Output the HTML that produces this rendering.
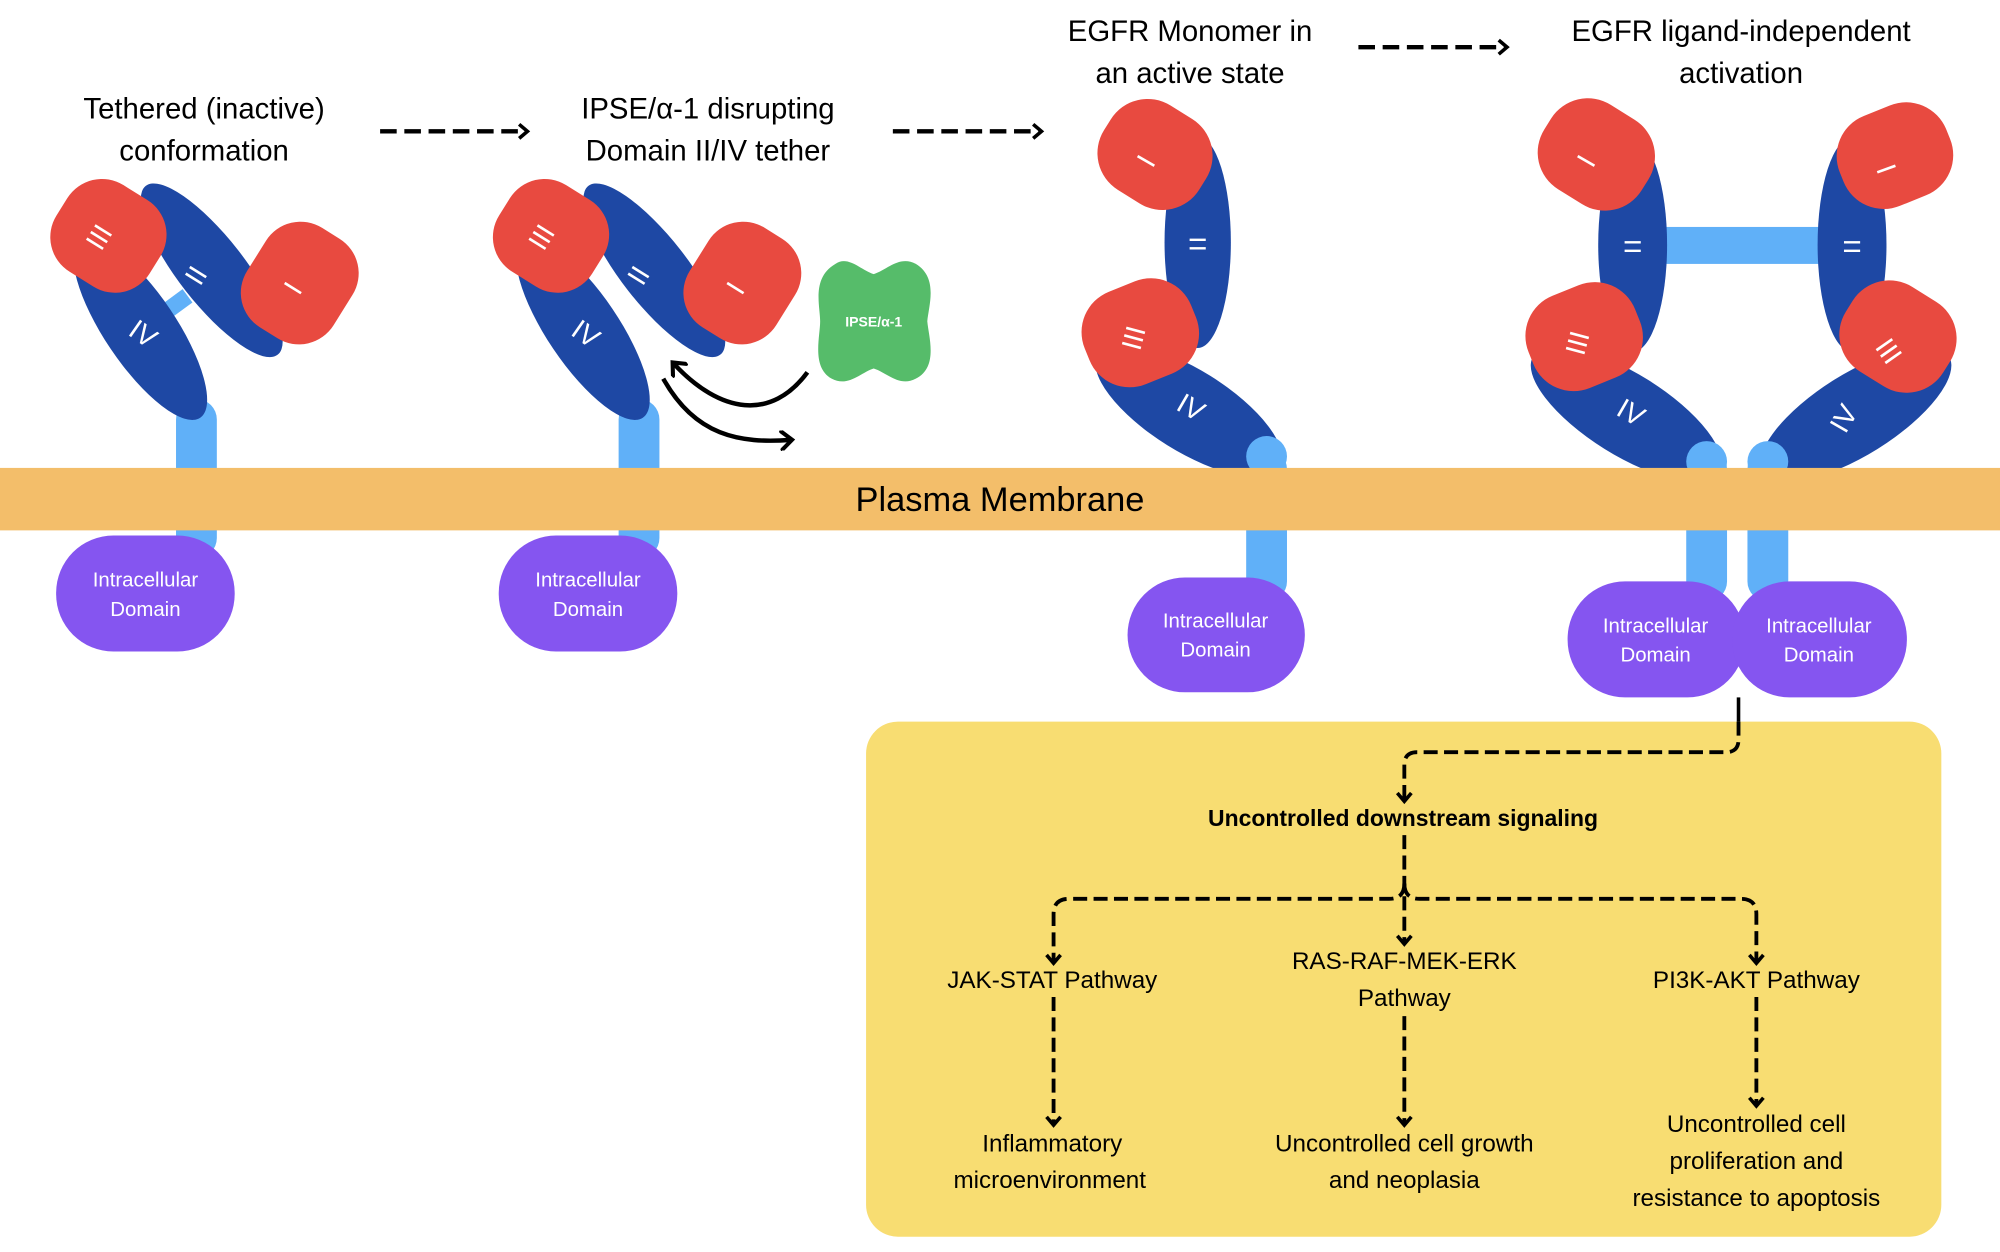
<!DOCTYPE html>
<html><head><meta charset="utf-8"><style>
html,body{margin:0;padding:0;background:#fff;}
svg{display:block;}
text{font-family:"Liberation Sans",sans-serif;}
</style></head><body>
<svg width="2000" height="1252" viewBox="0 0 1568 982" preserveAspectRatio="none" xmlns="http://www.w3.org/2000/svg">
<defs>
<marker id="ah" markerWidth="14" markerHeight="14" refX="9" refY="7" orient="auto" markerUnits="userSpaceOnUse">
<path d="M3,1.5 L9.5,7 L3,12.5" fill="none" stroke="#000" stroke-width="2.8"/>
</marker>
<marker id="ah2" markerWidth="16" markerHeight="16" refX="10" refY="8" orient="auto" markerUnits="userSpaceOnUse">
<path d="M3,1 L11,8 L3,15" fill="none" stroke="#000" stroke-width="3.2" stroke-linecap="round"/>
</marker>
<g id="tether">
<rect x="138" y="313" width="32" height="125" rx="16" fill="#60b0f8"/>
<ellipse cx="110" cy="258" rx="84" ry="28" transform="rotate(56 110 258)" fill="#1e48a4"/>
<ellipse cx="166" cy="212" rx="84" ry="26" transform="rotate(52 166 212)" fill="#1e48a4"/>
<rect x="42" y="145" width="86" height="80" rx="32" transform="rotate(32 85 185)" fill="#e84a40"/>
<rect x="195" y="176" width="80" height="92" rx="32" transform="rotate(32 235 222)" fill="#e84a40"/>
<text transform="translate(84,190) rotate(-58)" font-size="22" fill="#fff" text-anchor="middle">III</text>
<text transform="translate(160,220) rotate(-58)" font-size="22" fill="#fff" text-anchor="middle">II</text>
<text transform="translate(236,230) rotate(-58)" font-size="22" fill="#fff" text-anchor="middle">I</text>
<text transform="translate(108,268) rotate(35)" font-size="22" fill="#fff" text-anchor="middle">IV</text>
</g>
</defs>

<!-- Receptor 1 -->
<line x1="128" y1="246" x2="147" y2="232" stroke="#60b0f8" stroke-width="13"/>
<use href="#tether"/>
<!-- Receptor 2 -->
<use href="#tether" transform="translate(347,0)"/>

<!-- IPSE -->
<path d="M655,207 C665,200 675,212 685,215 C695,212 705,200 718,207 C736,218 728,240 727,252 C728,264 736,288 718,297 C705,304 695,292 685,289 C675,292 665,304 652,297 C636,288 643,264 643,252 C643,240 636,218 655,207 Z" fill="#56bc6a"/>
<text x="685" y="256" font-size="11" font-weight="bold" fill="#fff" text-anchor="middle">IPSE/α-1</text>
<path d="M633,292 C605,330 565,325 528,285" fill="none" stroke="#000" stroke-width="3.5" marker-end="url(#ah2)"/>
<path d="M520,297 C545,342 580,348 620,345" fill="none" stroke="#000" stroke-width="3.5" marker-end="url(#ah2)"/>

<!-- Receptor 3 monomer -->
<rect x="977" y="352" width="32" height="120" rx="16" fill="#60b0f8"/>
<ellipse cx="932" cy="322" rx="84" ry="32" transform="rotate(32 932 322)" fill="#1e48a4"/>
<ellipse cx="939" cy="190" rx="26" ry="83" fill="#1e48a4"/>
<rect x="861" y="82" width="88" height="78" rx="34" transform="rotate(32 905 122)" fill="#e84a40"/>
<rect x="849" y="222" width="90" height="78" rx="34" transform="rotate(-22 894 261)" fill="#e84a40"/>
<text transform="translate(905,130) rotate(-60)" font-size="22" fill="#fff" text-anchor="middle">I</text>
<text x="939" y="200" font-size="26" fill="#fff" text-anchor="middle">=</text>
<text transform="translate(896,267) rotate(-75)" font-size="22" fill="#fff" text-anchor="middle">III</text>
<text transform="translate(930,326) rotate(30)" font-size="22" fill="#fff" text-anchor="middle">IV</text>
<circle cx="993" cy="358" r="16" fill="#60b0f8"/>

<!-- Receptor 4 dimer -->
<rect x="1322" y="352" width="32" height="120" rx="16" fill="#60b0f8"/>
<rect x="1370" y="352" width="32" height="120" rx="16" fill="#60b0f8"/>
<rect x="1300" y="178" width="130" height="29" fill="#60b0f8"/>
<ellipse cx="1275" cy="325" rx="86" ry="32" transform="rotate(32 1275 325)" fill="#1e48a4"/>
<ellipse cx="1455" cy="325" rx="86" ry="32" transform="rotate(-32 1455 325)" fill="#1e48a4"/>
<ellipse cx="1280" cy="192" rx="27" ry="84" fill="#1e48a4"/>
<ellipse cx="1452" cy="192" rx="27" ry="84" fill="#1e48a4"/>
<rect x="1206" y="82" width="90" height="78" rx="34" transform="rotate(32 1251 122)" fill="#e84a40"/>
<rect x="1441" y="84" width="90" height="76" rx="34" transform="rotate(-22 1486 123)" fill="#e84a40"/>
<rect x="1197" y="225" width="90" height="78" rx="34" transform="rotate(-22 1242 264)" fill="#e84a40"/>
<rect x="1443" y="225" width="90" height="78" rx="34" transform="rotate(32 1488 264)" fill="#e84a40"/>
<text transform="translate(1250,130) rotate(-60)" font-size="22" fill="#fff" text-anchor="middle">I</text>
<text transform="translate(1486,130) rotate(-110)" font-size="22" fill="#fff" text-anchor="middle">I</text>
<text x="1280" y="202" font-size="26" fill="#fff" text-anchor="middle">=</text>
<text x="1452" y="202" font-size="26" fill="#fff" text-anchor="middle">=</text>
<text transform="translate(1244,271) rotate(-75)" font-size="22" fill="#fff" text-anchor="middle">III</text>
<text transform="translate(1487,271) rotate(-125)" font-size="22" fill="#fff" text-anchor="middle">III</text>
<text transform="translate(1275,330) rotate(30)" font-size="22" fill="#fff" text-anchor="middle">IV</text>
<text transform="translate(1452,332) rotate(-60)" font-size="22" fill="#fff" text-anchor="middle">IV</text>
<circle cx="1338" cy="362" r="16" fill="#60b0f8"/>
<circle cx="1386" cy="362" r="16" fill="#60b0f8"/>

<!-- Membrane -->
<rect x="0" y="367" width="1568" height="49" fill="#f3be6a"/>
<text x="784" y="401" font-size="27" fill="#000" text-anchor="middle">Plasma Membrane</text>

<!-- Intracellular domains -->
<g font-size="16" fill="#fff" text-anchor="middle">
<rect x="44" y="420" width="140" height="91" rx="45" fill="#8555f0"/>
<text x="114" y="460">Intracellular</text><text x="114" y="483">Domain</text>
<rect x="391" y="420" width="140" height="91" rx="45" fill="#8555f0"/>
<text x="461" y="460">Intracellular</text><text x="461" y="483">Domain</text>
<rect x="884" y="453" width="139" height="90" rx="45" fill="#8555f0"/>
<text x="953" y="492">Intracellular</text><text x="953" y="515">Domain</text>
<rect x="1229" y="456" width="139" height="91" rx="45" fill="#8555f0"/>
<rect x="1358" y="456" width="137" height="91" rx="45" fill="#8555f0"/>
<text x="1298" y="496">Intracellular</text><text x="1298" y="519">Domain</text>
<text x="1426" y="496">Intracellular</text><text x="1426" y="519">Domain</text>
</g>

<!-- Titles -->
<g font-size="23" fill="#000" text-anchor="middle">
<text x="160" y="93">Tethered (inactive)</text><text x="160" y="126">conformation</text>
<text x="555" y="93">IPSE/α-1 disrupting</text><text x="555" y="126">Domain II/IV tether</text>
<text x="933" y="32">EGFR Monomer in</text><text x="933" y="65">an active state</text>
<text x="1365" y="32">EGFR ligand-independent</text><text x="1365" y="65">activation</text>
</g>
<g stroke="#000" stroke-width="3.5" fill="none" stroke-dasharray="13,6">
<line x1="298" y1="103" x2="413" y2="103" marker-end="url(#ah)"/>
<line x1="700" y1="103" x2="816" y2="103" marker-end="url(#ah)"/>
<line x1="1065" y1="37" x2="1181" y2="37" marker-end="url(#ah)"/>
</g>

<!-- Yellow box -->
<rect x="679" y="566" width="843" height="404" rx="25" fill="#f8dd72"/>
<line x1="1363" y1="547" x2="1363" y2="566" stroke="#000" stroke-width="2.8"/>
<g stroke="#000" stroke-width="3" fill="none" stroke-dasharray="11,5">
<path d="M1363,566 L1363,580 Q1363,590 1353,590 L1111,590 Q1101,590 1101,600 L1101,628" marker-end="url(#ah)"/>
<path d="M1101,655 L1101,740" marker-end="url(#ah)"/>
<path d="M1101,693 Q1101,705 1089,705 L838,705 Q826,705 826,717 L826,755" marker-end="url(#ah)"/>
<path d="M1101,693 Q1101,705 1113,705 L1365,705 Q1377,705 1377,717 L1377,755" marker-end="url(#ah)"/>
<path d="M826,782 L826,882" marker-end="url(#ah)"/>
<path d="M1101,797 L1101,882" marker-end="url(#ah)"/>
<path d="M1377,782 L1377,867" marker-end="url(#ah)"/>
</g>
<text x="1100" y="648" font-size="18" font-weight="bold" text-anchor="middle">Uncontrolled downstream signaling</text>
<g font-size="19" text-anchor="middle" fill="#000">
<text x="825" y="775">JAK-STAT Pathway</text>
<text x="1101" y="760">RAS-RAF-MEK-ERK</text><text x="1101" y="789">Pathway</text>
<text x="1377" y="775">PI3K-AKT Pathway</text>
<text x="825" y="903">Inflammatory</text><text x="823" y="932">microenvironment</text>
<text x="1101" y="903">Uncontrolled cell growth</text><text x="1101" y="932">and neoplasia</text>
<text x="1377" y="888">Uncontrolled cell</text><text x="1377" y="917">proliferation and</text><text x="1377" y="946">resistance to apoptosis</text>
</g>
</svg>
</body></html>
